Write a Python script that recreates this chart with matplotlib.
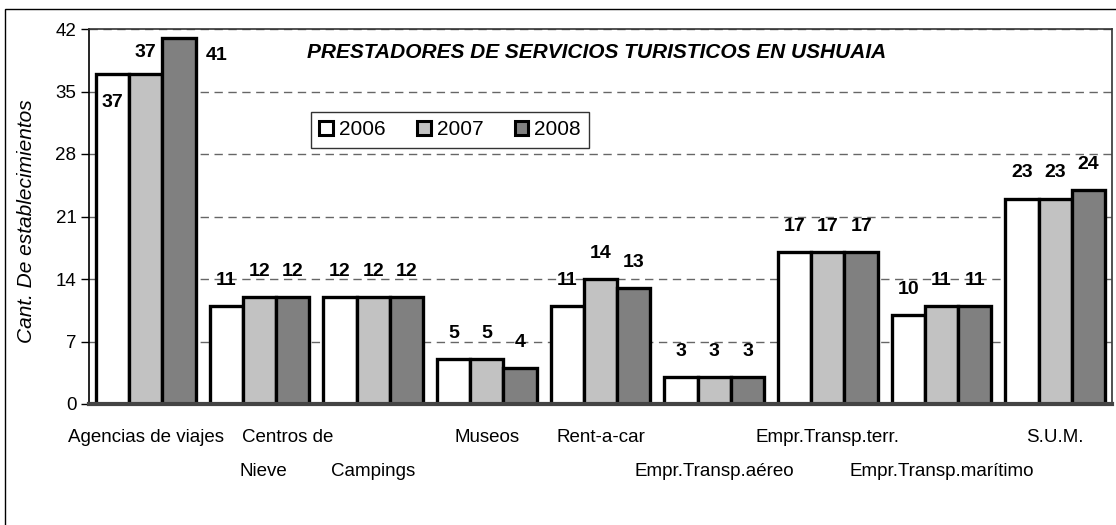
import matplotlib
matplotlib.use("Agg")
import matplotlib.pyplot as plt
from matplotlib.patches import Rectangle
import numpy as np

# Chart data
categories = ["Agencias de viajes", "Centros de\nNieve", "Campings", "Museos",
              "Rent-a-car", "Empr.Transp.aéreo", "Empr.Transp.terr.",
              "Empr.Transp.marítimo", "S.U.M."]
label_row = [0, 0, 1, 0, 0, 1, 0, 1, 0]   # staggered tick label rows
years = ["2006", "2007", "2008"]
v2006 = [37, 11, 12, 5, 11, 3, 17, 10, 23]
v2007 = [37, 12, 12, 5, 14, 3, 17, 11, 23]
v2008 = [41, 12, 12, 4, 13, 3, 17, 11, 24]
yticks = [0, 7, 14, 21, 28, 35, 42]

colors = ["white", "#c2c2c2", "#808080"]

plt.rcParams["font.family"] = ["Liberation Sans", "DejaVu Sans"]

fig = plt.figure(figsize=(11.16, 5.25), dpi=100)
W, H = 1116, 525
ax = fig.add_axes([89 / W, 1 - 404 / H, (1112 - 89) / W, (404 - 29) / H])

# outer frame of the chart area (runs off the right/bottom edge)
fig.patches.append(Rectangle((5 / W, -0.1), 1.2, 1 - 9 / H + 0.1,
                             transform=fig.transFigure, fill=False,
                             edgecolor="black", linewidth=1.0, zorder=0))

x = np.arange(len(categories))
bw = 0.293
series = [v2006, v2007, v2008]
for i, vals in enumerate(series):
    ax.bar(x + (i - 1) * bw, vals, bw, color=colors[i], edgecolor="black",
           linewidth=2.4, label=years[i], zorder=3)

# value labels (Excel put a few of the first group in odd places)
for i, vals in enumerate(series):
    for j, v in enumerate(vals):
        xx = x[j] + (i - 1) * bw
        if j == 0 and i == 0:
            off, anchor = (0, -21), (xx, v)
        elif j == 0 and i == 2:
            off, anchor = (15, -13), (xx + bw / 2, v)
        elif j == 0:
            off, anchor = (0, 15), (xx, v)
        else:
            off, anchor = (0, 18.5), (xx, v)
        ax.annotate(str(v), anchor, xytext=off, textcoords="offset points",
                    ha="center", va="center", fontsize=14, fontweight="bold")

ax.set_xlim(-0.5, len(categories) - 0.5)
ax.set_ylim(0, 42)
ax.set_yticks(yticks)
ax.tick_params(axis="y", labelsize=13.5, length=6, width=1, direction="out", pad=3)
ax.set_xticks([])
ax.yaxis.grid(True, linestyle=(0, (6, 4)), color="#666666", linewidth=1.0)
ax.set_axisbelow(True)
for s in ["top", "right"]:
    ax.spines[s].set_color("#333333")
    ax.spines[s].set_linewidth(1.2)
ax.spines["left"].set_linewidth(1.2)
ax.spines["bottom"].set_color("#444444")
ax.spines["bottom"].set_linewidth(3)
ax.spines["bottom"].set_zorder(4)

# staggered category labels, drawn line by line (baseline rows in pixels)
row_base = [442, 476]
line_dx = {1: [28, 4]}   # the wrapped "Centros de / Nieve" label sits off-centre
for j, lab in enumerate(categories):
    cx = 89 + (j + 0.5) * (1023 / 9)
    for k, line in enumerate(lab.split("\n")):
        dx = line_dx.get(j, [0, 0])[k]
        base = row_base[label_row[j]] + k * 34
        fig.text((cx + dx) / W, 1 - base / H, line,
                 ha="center", va="baseline", fontsize=13.5)

fig.text(27 / W, 1 - 221 / H, "Cant. De establecimientos", rotation=90,
         ha="center", va="center", fontsize=15, style="italic")

ax.text((597 - 89) / 1023, 1 - (52 - 29) / 375,
        "PRESTADORES DE SERVICIOS TURISTICOS EN USHUAIA",
        transform=ax.transAxes, ha="center", va="center", fontsize=15,
        fontweight="bold", style="italic")

leg = ax.legend(loc="upper left", bbox_to_anchor=((311 - 89) / 1023, 1 - (112 - 29) / 375),
                ncol=3, fontsize=15, frameon=True, fancybox=False,
                handlelength=0.65, handleheight=0.65, handletextpad=0.3,
                columnspacing=1.5, borderpad=0.4, borderaxespad=0)
leg.get_frame().set_edgecolor("black")
leg.get_frame().set_linewidth(1.0)
for h in leg.legend_handles:
    h.set_linewidth(2.2)

fig.savefig("out.png", dpi=100)
